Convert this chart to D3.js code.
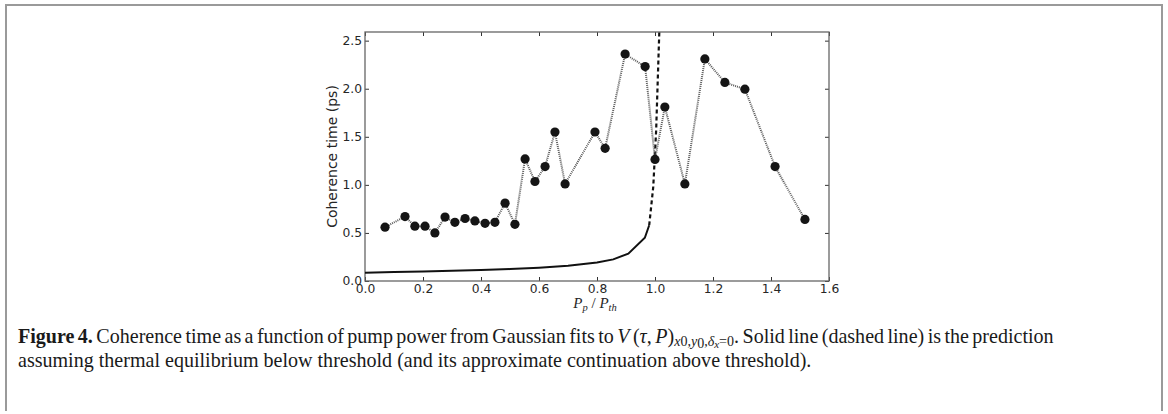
<!DOCTYPE html>
<html>
<head>
<meta charset="utf-8">
<script src="https://cdn.jsdelivr.net/npm/d3@7"></script>
<style>
  html, body { margin: 0; padding: 0; background: #fff; }
  svg { display: block; }
</style>
</head>
<body>
<svg id="fig" width="1168" height="414"></svg>
<script>
// Measured coherence time versus normalised pump power
const pumpPower = [0.069, 0.138, 0.172, 0.207, 0.241, 0.276, 0.310, 0.345, 0.379, 0.414,
                   0.448, 0.483, 0.517, 0.552, 0.586, 0.621, 0.655, 0.690, 0.793, 0.828,
                   0.897, 0.966, 1.000, 1.034, 1.103, 1.172, 1.241, 1.310, 1.414, 1.517];
const coherence = [0.56, 0.67, 0.57, 0.57, 0.50, 0.665, 0.61, 0.65, 0.625, 0.60,
                   0.61, 0.81, 0.59, 1.27, 1.035, 1.19, 1.55, 1.01, 1.55, 1.38,
                   2.36, 2.23, 1.265, 1.81, 1.01, 2.31, 2.065, 1.995, 1.19, 0.64];

// Thermal-equilibrium prediction below threshold (solid)
const thermalX = [0, 0.1, 0.2, 0.3, 0.4, 0.5, 0.6, 0.7, 0.8, 0.856, 0.908, 0.965, 0.98];
const thermalY = [0.086, 0.093, 0.100, 0.107, 0.114, 0.124, 0.138, 0.158, 0.192, 0.225, 0.285, 0.45, 0.58];

// Approximate continuation above threshold (dashed)
const contX = [0.98, 0.994, 1.004, 1.016];
const contY = [0.58, 0.98, 1.57, 2.70];

const xTicks = [0.0, 0.2, 0.4, 0.6, 0.8, 1.0, 1.2, 1.4, 1.6];
const yTicks = [0.0, 0.5, 1.0, 1.5, 2.0, 2.5];

const svg = d3.select("#fig");

// outer figure frame
svg.append("path")
  .attr("d", "M6,411V5H1162V411")
  .attr("fill", "none")
  .attr("stroke", "#9a9a9a")
  .attr("stroke-width", 2);

const plot = { left: 365, right: 829, top: 32, bottom: 281 };
const x = d3.scaleLinear().domain([0, 1.6]).range([plot.left, plot.right]);
const y = d3.scaleLinear().domain([0, 2.59]).range([plot.bottom, plot.top]);

svg.append("defs").append("clipPath").attr("id", "plotclip")
  .append("rect")
  .attr("x", plot.left).attr("y", plot.top)
  .attr("width", plot.right - plot.left).attr("height", plot.bottom - plot.top);

const tickFont = "'DejaVu Sans', sans-serif";
const fmt = d3.format(".1f");

function styleAxis(g) {
  g.select(".domain").remove();
  g.selectAll(".tick line").attr("stroke", "#333").attr("stroke-width", 1);
  g.selectAll(".tick text").attr("fill", "#262626")
    .style("font-family", tickFont).style("font-size", "12.3px");
}

svg.append("g").attr("transform", `translate(0,${plot.bottom})`)
  .call(d3.axisBottom(x).tickValues(xTicks).tickFormat(fmt).tickSize(-4).tickSizeOuter(0).tickPadding(3))
  .call(styleAxis);
svg.append("g").attr("transform", `translate(0,${plot.top})`)
  .call(d3.axisTop(x).tickValues(xTicks).tickFormat("").tickSize(-4).tickSizeOuter(0))
  .call(styleAxis);
svg.append("g").attr("transform", `translate(${plot.left},0)`)
  .call(d3.axisLeft(y).tickValues(yTicks).tickFormat(fmt).tickSize(-4).tickSizeOuter(0).tickPadding(3))
  .call(styleAxis);
svg.append("g").attr("transform", `translate(${plot.right},0)`)
  .call(d3.axisRight(y).tickValues(yTicks).tickFormat("").tickSize(-4).tickSizeOuter(0))
  .call(styleAxis);

// axes frame
svg.append("rect")
  .attr("x", plot.left).attr("y", plot.top)
  .attr("width", plot.right - plot.left).attr("height", plot.bottom - plot.top)
  .attr("fill", "none").attr("stroke", "#666").attr("stroke-width", 1.3);

const lines = svg.append("g").attr("clip-path", "url(#plotclip)");
const lineGen = d3.line().x(d => x(d[0])).y(d => y(d[1]));

// prediction below threshold
lines.append("path")
  .datum(d3.zip(thermalX, thermalY))
  .attr("d", lineGen)
  .attr("fill", "none").attr("stroke", "#111").attr("stroke-width", 2);

// continuation above threshold
lines.append("path")
  .datum(d3.zip(contX, contY))
  .attr("d", lineGen)
  .attr("fill", "none").attr("stroke", "#111").attr("stroke-width", 2.2)
  .attr("stroke-dasharray", "4,3");

// measurements joined by a dotted line
lines.append("path")
  .datum(d3.zip(pumpPower, coherence))
  .attr("d", lineGen)
  .attr("fill", "none").attr("stroke", "#5a5a5a").attr("stroke-width", 2)
  .attr("stroke-dasharray", "1,1");

lines.selectAll("circle.pt")
  .data(d3.zip(pumpPower, coherence))
  .join("circle")
  .attr("class", "pt")
  .attr("cx", d => x(d[0])).attr("cy", d => y(d[1]))
  .attr("r", 4.6)
  .attr("fill", "#151515");

// axis titles
const xt = svg.append("text")
  .attr("x", (plot.left + plot.right) / 2 - 2).attr("y", 308)
  .attr("text-anchor", "middle")
  .style("font-family", "'Liberation Serif', serif").style("font-size", "15px")
  .attr("fill", "#262626");
xt.append("tspan").style("font-style", "italic").text("P");
xt.append("tspan").attr("dy", 3).style("font-style", "italic").style("font-size", "10.5px").text("p");
xt.append("tspan").attr("dy", -3).text(" / ");
xt.append("tspan").style("font-style", "italic").text("P");
xt.append("tspan").attr("dy", 3).style("font-style", "italic").style("font-size", "10.5px").text("th");

svg.append("text")
  .attr("transform", `translate(337,${(plot.top + plot.bottom) / 2}) rotate(-90)`)
  .attr("text-anchor", "middle")
  .style("font-family", tickFont).style("font-size", "14px")
  .attr("fill", "#262626")
  .text("Coherence time (ps)");

// caption
const capFont = "'Liberation Serif', serif";
const cap1 = svg.append("text").attr("x", 18).attr("y", 343)
  .style("font-family", capFont).style("font-size", "17px").attr("fill", "#1a1a1a");
const seg = (parent, t, o = {}) => {
  const s = parent.append("tspan").text(t);
  if (o.b) s.style("font-weight", "bold");
  if (o.i) s.style("font-style", "italic");
  if (o.fs) s.style("font-size", o.fs);
  if (o.dy) s.attr("dy", o.dy);
  return s;
};
seg(cap1, "Figure 4.", { b: true });
seg(cap1, " Coherence time as a function of pump power from Gaussian fits to ");
seg(cap1, "V", { i: true });
seg(cap1, " (");
seg(cap1, "τ", { i: true });
seg(cap1, ",  ");
seg(cap1, "P", { i: true });
seg(cap1, ")");
seg(cap1, "x", { i: true, fs: "0.7em", dy: 3 });
seg(cap1, "0,", { fs: "0.7em" });
seg(cap1, "y", { i: true, fs: "0.7em" });
seg(cap1, "0", { fs: "0.7em", dy: 1.5 });
seg(cap1, ",", { fs: "0.7em", dy: -1.5 });
seg(cap1, "δ", { i: true, fs: "0.7em" });
seg(cap1, "x", { i: true, fs: "0.55em", dy: 1.5 });
seg(cap1, "=0", { fs: "0.7em", dy: -1.5 });
seg(cap1, ". Solid line (dashed line) is the prediction", { dy: -3 });

const cap2 = svg.append("text").attr("x", 18).attr("y", 367)
  .style("font-family", capFont).style("font-size", "17px").attr("fill", "#1a1a1a")
  .text("assuming thermal equilibrium below threshold (and its approximate continuation above threshold).");

// set the caption size from the second line and justify the first one
const w2 = cap2.node().getComputedTextLength();
const fs = 17 * 794 / w2;
cap1.style("font-size", fs + "px");
cap2.style("font-size", fs + "px");
const w1 = cap1.node().getComputedTextLength();
const spaces = (cap1.text().match(/ /g) || []).length;
cap1.style("word-spacing", ((1034 - w1) / spaces) + "px");
</script>
</body>
</html>
